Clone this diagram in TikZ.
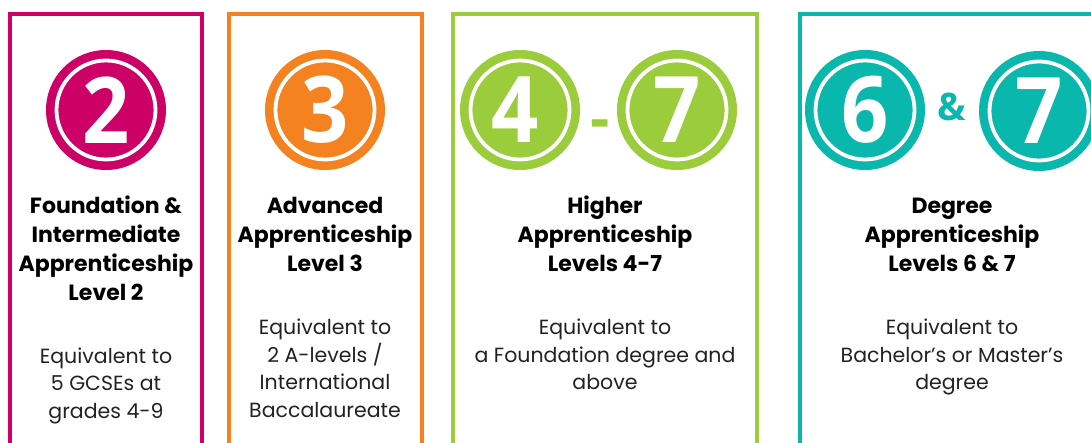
\documentclass[tikz,border=0pt]{standalone}
\usepackage{fontspec}
\setmainfont{Poppins}
\newfontfamily\digitfont{Open Sans}
\definecolor{cA}{HTML}{CC0066}
\definecolor{cB}{HTML}{F58220}
\definecolor{cC}{HTML}{9BCC3C}
\definecolor{cD}{HTML}{0AB7AD}
\definecolor{txt}{HTML}{222222}
\tikzset{x=1pt,y=-1pt,
 panel/.style={line width=3.8pt},
 disc/.style={circle,fill=#1,draw=none,minimum size=120pt,inner sep=0pt},
 ring/.style={circle,draw=white,line width=3.8pt,minimum size=99pt,inner sep=0pt},
 digit/.style={text=white,font=\digitfont\fontsize{92}{92}\selectfont\bfseries,inner sep=0pt,xscale=.9},
 head/.style={font=\fontsize{22}{29}\selectfont\bfseries,text=black,align=center,inner sep=0pt,anchor=north,execute at begin node=\rule{0pt}{22pt}},
 body/.style={font=\fontsize{20.5}{27.5}\selectfont,text=txt,align=center,inner sep=0pt,anchor=north,execute at begin node=\rule{0pt}{22pt}}}
\begin{document}
\begin{tikzpicture}
\useasboundingbox (0,0) rectangle (1091,443);
\fill[white] (0,0) rectangle (1091,443);
\begin{scope}
\clip (0,0) rectangle (1091,443);
\draw[panel,cA] (10,450) -- (10,14) -- (202,14) -- (202,450);
\draw[panel,cB] (229,450) -- (229,14) -- (422,14) -- (422,450);
\draw[panel,cC] (453,450) -- (453,14) -- (757,14) -- (757,450);
\draw[panel,cD] (800,450) -- (800,14) -- (1100,14) -- (1100,450);
\node[disc=cA] (d2) at (106,110) {};
\node[ring] (r2) at (106,110) {};
\node[digit] (t2) at (106,110) {2};
\node[disc=cB] (d3) at (325,110) {};
\node[ring] (r3) at (325,110) {};
\node[digit] (t3) at (325,110) {3};
\node[disc=cC] (d4) at (520,110) {};
\node[ring] (r4) at (520,110) {};
\node[digit] (t4) at (515,110) {4};
\node[disc=cC] (d7) at (677,110) {};
\node[ring] (r7) at (677,110) {};
\node[digit] (t7) at (677,110) {7};
\node[font=\digitfont\fontsize{60}{60}\selectfont\bfseries,text=cC,inner sep=0pt] (dash) at (600,130) {-};
\node[disc=cD] (d6) at (865,110) {};
\node[ring] (r6) at (865,110) {};
\node[digit] (t6) at (865,110) {6};
\node[disc=cD] (d7b) at (1039,111) {};
\node[ring] (r7b) at (1039,111) {};
\node[digit] (t7b) at (1039,111) {7};
\node[font=\digitfont\fontsize{38}{38}\selectfont\bfseries,text=cD,inner sep=0pt] (amp) at (952,107) {\&};
\node[head] (h1) at (106,196) {Foundation \&\\Intermediate\\Apprenticeship\\Level 2};
\node[head] (h2) at (325,197) {Advanced\\Apprenticeship\\Level 3};
\node[head] (h3) at (605,196) {Higher\\Apprenticeship\\Levels 4-7};
\node[head] (h4) at (952,198) {Degree\\Apprenticeship\\Levels 6 \& 7};
\node[body] (b1) at (106,347.5) {Equivalent to\\5 GCSEs at\\grades 4-9};
\node[body] (b2) at (325,319) {Equivalent to\\2 A-levels /\\International\\Baccalaureate};
\node[body] (b3) at (605,319) {Equivalent to\\a Foundation degree and\\above};
\node[body] (b4) at (952,319) {Equivalent to\\Bachelor’s or Master’s\\degree};
\end{scope}
\end{tikzpicture}
\end{document}
